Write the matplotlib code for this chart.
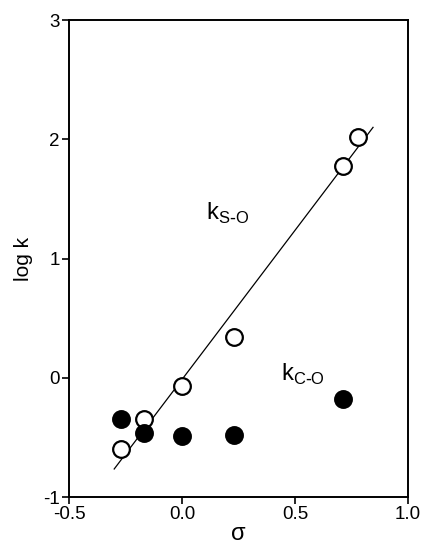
import matplotlib
matplotlib.use("Agg")
import matplotlib.pyplot as plt

plt.rcParams['font.family'] = ['Liberation Sans', 'DejaVu Sans']

# substituent constants and rate constants (log k)
sigma_so = [-0.27, -0.17, 0.0, 0.23, 0.71, 0.78]
logk_so = [-0.60, -0.35, -0.07, 0.345, 1.78, 2.02]

sigma_co = [-0.27, -0.17, 0.0, 0.23, 0.71]
logk_co = [-0.345, -0.46, -0.49, -0.48, -0.175]

# regression line for k(S-O)
fit_x = [-0.30, 0.845]
fit_y = [-0.765, 2.10]

fig = plt.figure(figsize=(4.22, 5.47), dpi=100)
ax = fig.add_axes([0.1635, 0.0914, 0.8035, 0.872])

ax.plot(fit_x, fit_y, color='black', lw=0.9, zorder=1)
ax.plot(sigma_so, logk_so, 'o', ms=12, mfc='white', mec='black', mew=1.6, zorder=2)
ax.plot(sigma_co, logk_co, 'o', ms=12, mfc='black', mec='black', mew=1.6, zorder=3)

ax.text(0.105, 1.38, r'k$_{\mathregular{S\text{-}O}}$', fontsize=17, va='center', ha='left')
ax.text(0.44, 0.03, r'k$_{\mathregular{C\text{-}O}}$', fontsize=17, va='center', ha='left')

ax.set_xlim(-0.5, 1.0)
ax.set_ylim(-1, 3)
ax.set_xticks([-0.5, 0.0, 0.5, 1.0])
ax.set_xticklabels(['-0.5', '0.0', '0.5', '1.0'])
ax.set_yticks([-1, 0, 1, 2, 3])
ax.set_yticklabels(['-1', '0', '1', '2', '3'])
ax.tick_params(direction='out', length=5, width=1.2, labelsize=13.5, pad=1.5)

for s in ax.spines.values():
    s.set_linewidth(1.4)

ax.set_xlabel('σ', fontsize=17, labelpad=0)
ax.yaxis.set_label_coords(-0.105, 0.47)
ax.set_ylabel('log k', fontsize=15)

plt.savefig('out.png', dpi=100)
